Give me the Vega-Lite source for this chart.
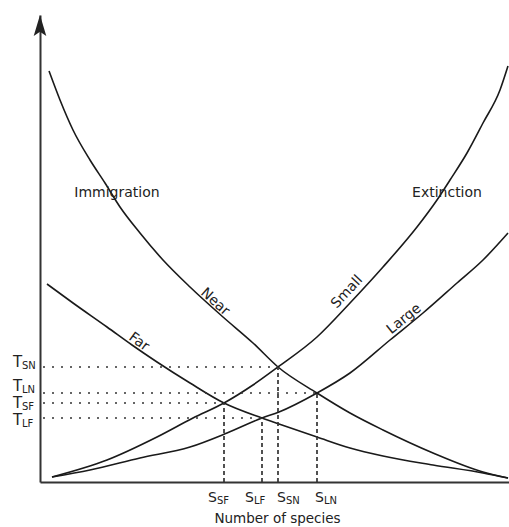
{
  "$schema": "https://vega.github.io/schema/vega-lite/v6.json",
  "width": 469,
  "height": 467,
  "autosize": {"type": "none"},
  "padding": {"left": 40, "top": 15, "right": 0, "bottom": 45},
  "background": "white",
  "config": {"view": {"stroke": null}, "font": "DejaVu Sans"},
  "datasets": {
    "curves": [
      {"curve": "Near", "x": 9, "y": 411}, {"curve": "Near", "x": 20, "y": 382}, {"curve": "Near", "x": 33, "y": 352},
      {"curve": "Near", "x": 50, "y": 322}, {"curve": "Near", "x": 65, "y": 299}, {"curve": "Near", "x": 80, "y": 275},
      {"curve": "Near", "x": 100, "y": 249}, {"curve": "Near", "x": 123, "y": 222}, {"curve": "Near", "x": 150, "y": 195},
      {"curve": "Near", "x": 183, "y": 165}, {"curve": "Near", "x": 213, "y": 139}, {"curve": "Near", "x": 238, "y": 115},
      {"curve": "Near", "x": 277, "y": 89}, {"curve": "Near", "x": 310, "y": 69}, {"curve": "Near", "x": 343, "y": 52},
      {"curve": "Near", "x": 393, "y": 29}, {"curve": "Near", "x": 443, "y": 10}, {"curve": "Near", "x": 468, "y": 4},
      {"curve": "Far", "x": 7, "y": 198}, {"curve": "Far", "x": 33, "y": 179}, {"curve": "Far", "x": 67, "y": 155},
      {"curve": "Far", "x": 92, "y": 137}, {"curve": "Far", "x": 117, "y": 120}, {"curve": "Far", "x": 150, "y": 99},
      {"curve": "Far", "x": 184, "y": 79}, {"curve": "Far", "x": 222, "y": 64}, {"curve": "Far", "x": 239, "y": 58},
      {"curve": "Far", "x": 277, "y": 45}, {"curve": "Far", "x": 310, "y": 34}, {"curve": "Far", "x": 343, "y": 26},
      {"curve": "Far", "x": 393, "y": 17}, {"curve": "Far", "x": 443, "y": 9}, {"curve": "Far", "x": 468, "y": 4},
      {"curve": "Small", "x": 12, "y": 5}, {"curve": "Small", "x": 67, "y": 22}, {"curve": "Small", "x": 117, "y": 45},
      {"curve": "Small", "x": 153, "y": 64}, {"curve": "Small", "x": 184, "y": 79}, {"curve": "Small", "x": 213, "y": 97},
      {"curve": "Small", "x": 238, "y": 115}, {"curve": "Small", "x": 277, "y": 145}, {"curve": "Small", "x": 310, "y": 179},
      {"curve": "Small", "x": 343, "y": 215}, {"curve": "Small", "x": 377, "y": 255}, {"curve": "Small", "x": 397, "y": 282},
      {"curve": "Small", "x": 410, "y": 302}, {"curve": "Small", "x": 427, "y": 329}, {"curve": "Small", "x": 443, "y": 359},
      {"curve": "Small", "x": 460, "y": 392}, {"curve": "Small", "x": 468, "y": 416},
      {"curve": "Large", "x": 12, "y": 5}, {"curve": "Large", "x": 50, "y": 12}, {"curve": "Large", "x": 100, "y": 24},
      {"curve": "Large", "x": 150, "y": 35}, {"curve": "Large", "x": 187, "y": 49}, {"curve": "Large", "x": 222, "y": 64},
      {"curve": "Large", "x": 239, "y": 70}, {"curve": "Large", "x": 277, "y": 89}, {"curve": "Large", "x": 310, "y": 109},
      {"curve": "Large", "x": 350, "y": 142}, {"curve": "Large", "x": 383, "y": 169}, {"curve": "Large", "x": 417, "y": 199},
      {"curve": "Large", "x": 443, "y": 222}, {"curve": "Large", "x": 468, "y": 249}
    ],
    "guides": [
      {"kind": "h", "x": 3, "x2": 238, "y": 115, "y2": 115},
      {"kind": "h", "x": 3, "x2": 277, "y": 89, "y2": 89},
      {"kind": "h", "x": 3, "x2": 184, "y": 79, "y2": 79},
      {"kind": "h", "x": 3, "x2": 222, "y": 64, "y2": 64},
      {"kind": "v", "x": 238, "x2": 238, "y": 0, "y2": 115},
      {"kind": "v", "x": 277, "x2": 277, "y": 0, "y2": 89},
      {"kind": "v", "x": 184, "x2": 184, "y": 0, "y2": 79},
      {"kind": "v", "x": 222, "x2": 222, "y": 0, "y2": 64}
    ],
    "curveLabels": [
      {"text": "Immigration", "x": 77, "y": 289, "angle": 0},
      {"text": "Extinction", "x": 407, "y": 289, "angle": 0},
      {"text": "Near", "x": 175, "y": 180, "angle": 42},
      {"text": "Far", "x": 99, "y": 140, "angle": 36},
      {"text": "Small", "x": 307, "y": 190, "angle": -47},
      {"text": "Large", "x": 364, "y": 163, "angle": -39}
    ],
    "levels": [
      {"group": "T", "main": "T", "sub": "SN", "x": -27, "y": 115},
      {"group": "T", "main": "T", "sub": "LN", "x": -27, "y": 91},
      {"group": "T", "main": "T", "sub": "SF", "x": -27, "y": 74.5},
      {"group": "T", "main": "T", "sub": "LF", "x": -27, "y": 57},
      {"group": "S", "main": "S", "sub": "SF", "x": 168, "y": -20},
      {"group": "S", "main": "S", "sub": "LF", "x": 205, "y": -20},
      {"group": "S", "main": "S", "sub": "SN", "x": 237, "y": -20},
      {"group": "S", "main": "S", "sub": "LN", "x": 275, "y": -20}
    ],
    "arrow": [{"x": 0, "y": 456.5}]
  },
  "layer": [
    {
      "data": {"name": "curves"},
      "mark": {"type": "line", "interpolate": "monotone", "color": "#1a1a1a", "strokeWidth": 1.6},
      "encoding": {
        "x": {"field": "x", "type": "quantitative", "scale": {"domain": [0, 469], "nice": false, "zero": false},
          "axis": {"domain": true, "domainColor": "#333", "domainWidth": 2, "ticks": false, "labels": false, "grid": false,
            "title": "Number of species", "titleFont": "DejaVu Sans", "titleFontSize": 13.5, "titleFontWeight": "normal",
            "titleColor": "#222", "titleBaseline": "alphabetic", "titleY": 40, "titleX": 237, "titleAlign": "center"}},
        "y": {"field": "y", "type": "quantitative", "scale": {"domain": [0, 467], "nice": false, "zero": false},
          "axis": {"domain": true, "domainColor": "#333", "domainWidth": 2, "ticks": false, "labels": false, "grid": false, "title": null}},
        "detail": {"field": "curve", "type": "nominal"}
      }
    },
    {
      "data": {"name": "guides"},
      "mark": {"type": "rule", "color": "#333", "strokeWidth": 1.7},
      "encoding": {
        "x": {"field": "x", "type": "quantitative"},
        "x2": {"field": "x2"},
        "y": {"field": "y", "type": "quantitative"},
        "y2": {"field": "y2"},
        "strokeDash": {"field": "kind", "type": "nominal", "scale": {"domain": ["h", "v"], "range": [[2, 7], [4, 3]]}, "legend": null}
      }
    },
    {
      "data": {"name": "curveLabels"},
      "mark": {"type": "text", "fontSize": 14, "color": "#222", "baseline": "middle", "align": "center", "font": "DejaVu Sans"},
      "encoding": {
        "x": {"field": "x", "type": "quantitative"},
        "y": {"field": "y", "type": "quantitative"},
        "text": {"field": "text"},
        "angle": {"field": "angle", "type": "quantitative", "scale": null}
      }
    },
    {
      "data": {"name": "levels"},
      "transform": [{"filter": "datum.group === 'T'"}],
      "mark": {"type": "text", "fontSize": 15, "color": "#222", "baseline": "alphabetic", "align": "left", "font": "DejaVu Sans"},
      "encoding": {
        "x": {"field": "x", "type": "quantitative"},
        "y": {"field": "y", "type": "quantitative"},
        "text": {"field": "main"}
      }
    },
    {
      "data": {"name": "levels"},
      "transform": [{"filter": "datum.group === 'S'"}],
      "mark": {"type": "text", "fontSize": 14, "color": "#222", "baseline": "alphabetic", "align": "left", "font": "DejaVu Sans"},
      "encoding": {
        "x": {"field": "x", "type": "quantitative"},
        "y": {"field": "y", "type": "quantitative"},
        "text": {"field": "main"}
      }
    },
    {
      "data": {"name": "levels"},
      "mark": {"type": "text", "fontSize": 10, "color": "#222", "baseline": "alphabetic", "align": "left", "dx": 9, "dy": 2, "font": "DejaVu Sans"},
      "encoding": {
        "x": {"field": "x", "type": "quantitative"},
        "y": {"field": "y", "type": "quantitative"},
        "text": {"field": "sub"}
      }
    },
    {
      "data": {"name": "arrow"},
      "mark": {"type": "point", "shape": "M0,-1 L0.6,1 L0,0.6 L-0.6,1 Z", "size": 441, "filled": true, "color": "#222", "opacity": 1},
      "encoding": {
        "x": {"field": "x", "type": "quantitative"},
        "y": {"field": "y", "type": "quantitative"}
      }
    }
  ]
}
